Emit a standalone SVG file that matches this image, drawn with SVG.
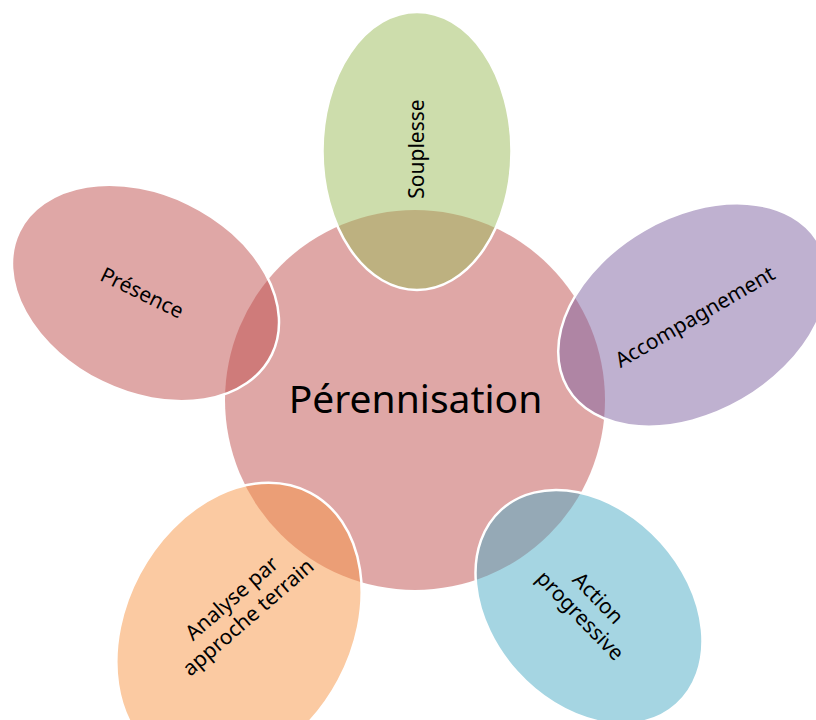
<svg xmlns="http://www.w3.org/2000/svg" width="816" height="720" viewBox="0 0 816 720">
<style>
.e{stroke:#fff;stroke-width:2.5;fill-opacity:0.5}
.t{font-family:"Noto Sans","Open Sans",sans-serif;font-size:21px;fill:#000;text-anchor:middle}
</style>
<rect width="816" height="720" fill="#fff"/>
<g id="perennisation">
<circle cx="415" cy="400" r="190" fill="#C0504D" fill-opacity="0.5"/>
<text class="t" x="415.5" y="413" style="font-size:39px">Pérennisation</text>
</g>
<g id="souplesse">
<ellipse class="e" cx="417" cy="151" rx="94.5" ry="139" fill="#9BBB59"/>
<text class="t" transform="translate(417.5,149) rotate(-90)" x="0" y="6">Souplesse</text>
</g>
<g id="presence">
<ellipse class="e" transform="translate(145.5,293) rotate(26)" cx="0" cy="0" rx="140.5" ry="99" fill="#C0504D"/>
<text class="t" transform="translate(142,293) rotate(26)" x="0" y="7">Présence</text>
</g>
<g id="accompagnement">
<ellipse class="e" transform="translate(693,315) rotate(-30)" cx="0" cy="0" rx="145" ry="98" fill="#8064A2"/>
<text class="t" transform="translate(695,317) rotate(-30)" x="0" y="7">Accompagnement</text>
</g>
<g id="action">
<ellipse class="e" transform="translate(589,607) rotate(48)" cx="0" cy="0" rx="131" ry="97" fill="#4BACC6"/>
<text class="t" transform="translate(589,607) rotate(46)"><tspan x="0" y="-5.5">Action</tspan><tspan x="0" y="19.5">progressive</tspan></text>
</g>
<g id="analyse">
<ellipse class="e" transform="translate(239,627) rotate(-62)" cx="0" cy="0" rx="152" ry="113" fill="#F79646"/>
<text class="t" transform="translate(240,608) rotate(-41)"><tspan x="0" y="-5.5">Analyse par</tspan><tspan x="0" y="19.5">approche terrain</tspan></text>
</g>
</svg>
